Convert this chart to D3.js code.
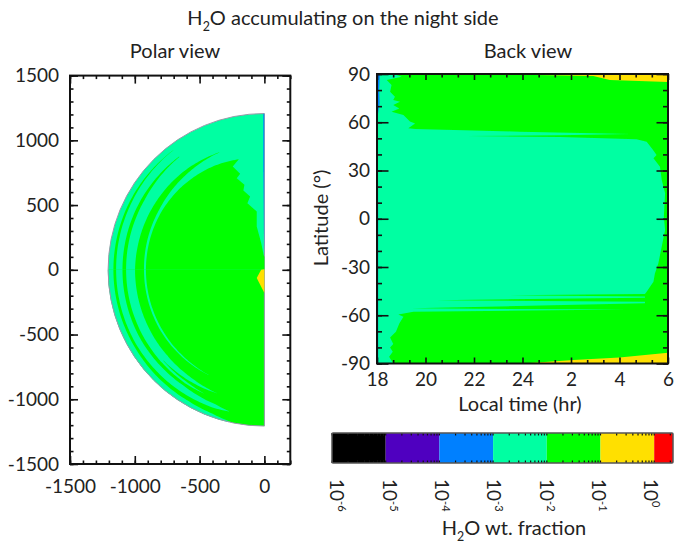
<!DOCTYPE html>
<html>
<head>
<meta charset="utf-8">
<script src="https://cdn.jsdelivr.net/npm/d3@7"></script>
<style>
  html, body { margin: 0; padding: 0; background: #fff; }
  text { font-family: Lato, sans-serif; fill: #222; }
  .axis path { display: none; }
  .axis line { stroke: #111; stroke-width: 1.6; }
  .axis text { font-size: 19px; font-family: Lato, sans-serif; fill: #222; }
</style>
</head>
<body>
<svg id="chart" width="674" height="544"></svg>
<script>
// colours of the colour bar, one per decade
const barColors = ['#000000', '#5000c0', '#0080ff', '#00ffa2', '#00ff00', '#ffe000', '#ff0000'];
const barEdges = [1e-6, 1e-5, 1e-4, 1e-3, 1e-2, 1e-1, 1, 2.24];
const barLabels = [-6, -5, -4, -3, -2, -1, 0];
const teal = barColors[3], green = barColors[4], yellow = barColors[5], blue = barColors[2];

// polar view: disc radius, then bands as [latitude, inner r, outer r]
const discRadius = 1206;
const polarTicks = [-1500, -1000, -500, 0, 500, 1000, 1500];
const polarTicksX = [-1500, -1000, -500, 0];
const polarGreenBands = [
  [[0, 1144, 1165], [25, 1148, 1165], [53, 1160, 1161]],
  [[0, 1067, 1095], [30, 1070, 1095], [53, 1090, 1094]],
  [[0, 929, 998], [30, 935, 988], [50, 950, 982], [69, 970, 971]],
];
const polarTealBands = [
  [[0, 1165, 1208], [-30, 1165, 1208], [-60, 1170, 1208], [-70, 1180, 1208], [-77, 1200, 1208]],
  [[0, 1095, 1144], [-30, 1095, 1144], [-55, 1090, 1140], [-70, 1105, 1135], [-76, 1125, 1127]],
  [[0, 998, 1067], [-25, 998, 1067], [-42, 1000, 1067]],
  [[-41, 1000, 1048], [-55, 1005, 1035], [-69, 1020, 1021]],
  [[-41, 1050, 1067], [-55, 1052, 1068], [-64, 1061, 1063]],
  [[0, 914, 929], [-30, 914, 929], [-50, 915, 924], [-62, 918, 919]],
];
// polar view: outer edge of the main green patch as [latitude, r], jagged edge as [x, y]
const polarCapArc = [[77.6, 875], [70, 885], [60, 895], [45, 905], [30, 912], [15, 914], [0, 914]];
const polarCapEdge = [
  [-244, 797], [-187, 741], [-213, 708], [-154, 656], [-162, 612], [-110, 566],
  [-131, 515], [-59, 450], [-59, 334], [-25, 208], [-5, 110], [0, 100], [0, 0],
];
const polarYellow = [[-25, 0], [-59, -64], [0, -180], [0, 5]];
const polarBlue = [[-10, 1206], [0, 1206], [0, 100], [-4, 300], [-10, 800]];

// back view: outlines as [local time, latitude], local time runs on past 24
const timeTicks = [18, 20, 22, 24, 26, 28, 30];
const latTicks = [-90, -60, -30, 0, 30, 60, 90];
const backGreenNorth = [
  [18.67, 90], [19.02, 88.3], [18.4, 86.3], [18.6, 83.1], [18.54, 79], [18.74, 75.9], [18.67, 73.8],
  [18.95, 72.8], [18.67, 70.7], [18.92, 68.6], [18.6, 66.6], [19.09, 64.5], [19.36, 60.4], [19.57, 59.3],
  [19.29, 56.2], [19.57, 55.8], [23.9, 54.1], [28.43, 52.7], [25.55, 51.9], [21.7, 51.4], [25.55, 50.8],
  [28.7, 49.4], [29.12, 47.9], [29.33, 43.8], [29.53, 39.6], [29.4, 37.6], [29.67, 32.4], [29.74, 24.2],
  [29.88, 15.9], [29.83, 1.2], [30, 0], [30, 90],
];
const backGreenSouth = [
  [29.83, 1.2], [29.88, -7], [29.74, -17.4], [29.6, -27.8], [29.46, -34], [29.4, -39.1], [29.12, -45.4],
  [29.05, -46.8], [23.48, -47.5], [29.05, -48.3], [29.05, -49.1], [20.46, -50.6], [29.05, -51.6],
  [29.05, -52.6], [19.43, -55.7], [28.3, -56.5], [19.5, -57.8], [18.88, -59.5], [19.09, -60.9],
  [18.92, -65.1], [18.78, -70.2], [18.54, -73.8], [18.67, -77.9], [18.54, -80], [18.65, -82.7],
  [18.5, -85.8], [18.65, -89.5], [18.65, -90], [30, -90], [30, 0],
];
const backYellowNorth = [[23.35, 90], [23.35, 89.7], [26.92, 88.7], [27.6, 86.3], [30, 85], [30, 90]];
const backYellowSouth = [[24.03, -90], [26.1, -87.9], [28, -86.2], [30, -83.3], [30, -90]];
const backBlue = [[18, 90], [18.12, 90], [18.09, 80], [18.11, 72], [18.03, 64], [18.05, 0], [18.05, -90], [18, -90]];

const svg = d3.select('#chart');

// slight softening, the marks are not crisp in the original
svg.append('defs').append('filter').attr('id', 'soft')
  .append('feGaussianBlur').attr('stdDeviation', 0.5);

const rad = (deg) => (deg * Math.PI) / 180;

// ---- polar view ----
const polarX = d3.scaleLinear().domain([-1500, 200]).range([70, 290.3]);
const polarY = d3.scaleLinear().domain([-1500, 1500]).range([464, 75.6]);
const polarR = d3.scaleLinear().domain([0, 1500]).range([0, polarX(0) - polarX(-1500)]);

const polarLine = d3.line().x((d) => polarX(d[0])).y((d) => polarY(d[1]));
const bandArea = d3.areaRadial()
  .angle((d) => rad(d.lat - 90))
  .innerRadius((d) => polarR(d.inner))
  .outerRadius((d) => polarR(d.outer));

// walk each band in 1 degree steps so it bends like an arc instead of a chord
function bandPath(stations) {
  const lats = stations.map((d) => d[0]);
  const inner = d3.scaleLinear().domain(lats).range(stations.map((d) => d[1]));
  const outer = d3.scaleLinear().domain(lats).range(stations.map((d) => d[2]));
  const [lo, hi] = d3.extent(lats);
  return bandArea(d3.range(lo, hi + 0.5, 1).map((lat) => ({ lat, inner: inner(lat), outer: outer(lat) })));
}

const polarMarks = svg.append('g').attr('filter', 'url(#soft)');
const disc = polarMarks.append('g').attr('transform', `translate(${polarX(0)}, ${polarY(0)})`);
const discArc = (start, end) => d3.arc()({ innerRadius: 0, outerRadius: polarR(discRadius), startAngle: start, endAngle: end });

disc.append('path').attr('fill', teal).attr('d', discArc(-Math.PI, 0));
disc.append('path').attr('fill', green).attr('d', discArc(-Math.PI, -Math.PI / 2));
disc.selectAll('.gband').data(polarGreenBands).enter().append('path')
  .attr('class', 'gband').attr('fill', green).attr('d', bandPath);
disc.selectAll('.tband').data(polarTealBands).enter().append('path')
  .attr('class', 'tband').attr('fill', teal).attr('d', bandPath);

// main green patch: jagged edge, then back along its arc
const capRadius = d3.scaleLinear().domain(polarCapArc.map((d) => d[0])).range(polarCapArc.map((d) => d[1]));
const capArcPoints = d3.range(0, 78, 1).map((lat) => [
  -capRadius(lat) * Math.cos(rad(lat)),
  capRadius(lat) * Math.sin(rad(lat)),
]);
polarMarks.append('path').attr('fill', green).attr('d', polarLine(polarCapEdge.concat(capArcPoints)) + 'Z');
polarMarks.append('path').attr('fill', yellow).attr('d', polarLine(polarYellow) + 'Z');
polarMarks.append('path').attr('fill', blue).attr('opacity', 0.75).attr('d', polarLine(polarBlue) + 'Z');

disc.append('path').attr('fill', 'none').attr('stroke', '#9a98a8').attr('stroke-width', 1)
  .attr('d', discArc(-Math.PI, 0));

// ---- back view ----
const backX = d3.scaleLinear().domain([18, 30]).range([377, 668]);
const backY = d3.scaleLinear().domain([-90, 90]).range([363.5, 74]);
const backLine = d3.line().x((d) => backX(d[0])).y((d) => backY(d[1]));

const backMarks = svg.append('g').attr('filter', 'url(#soft)');
backMarks.append('rect')
  .attr('x', backX(18)).attr('y', backY(90))
  .attr('width', backX(30) - backX(18)).attr('height', backY(-90) - backY(90))
  .attr('fill', teal);
[[backGreenNorth, green], [backGreenSouth, green], [backYellowNorth, yellow], [backYellowSouth, yellow], [backBlue, blue]]
  .forEach(([outline, colour]) => {
    backMarks.append('path').attr('fill', colour).attr('d', backLine(outline) + 'Z');
  });

// ---- frames and ticks ----
function frame(x, y, opts) {
  const [x0, x1] = x.range();
  const [y0, y1] = y.range();
  const g = svg.append('g');
  g.append('rect').attr('x', x0).attr('y', y1).attr('width', x1 - x0).attr('height', y0 - y1)
    .attr('fill', 'none').attr('stroke', '#111').attr('stroke-width', 2);

  const add = (axis, tx, ty) => g.append('g').attr('class', 'axis')
    .attr('transform', `translate(${tx}, ${ty})`).call(axis);

  add(d3.axisLeft(y).tickValues(opts.major).tickSize(-opts.longY).tickPadding(opts.padY).tickFormat(String), x0, 0);
  add(d3.axisLeft(y).tickValues(opts.minor).tickSize(-opts.shortY).tickFormat(''), x0, 0);
  add(d3.axisRight(y).tickValues(opts.major).tickSize(-opts.longY).tickFormat(''), x1, 0);
  add(d3.axisRight(y).tickValues(opts.minor).tickSize(-opts.shortY).tickFormat(''), x1, 0);
  add(d3.axisBottom(x).tickValues(opts.majorX).tickSize(-opts.longX).tickPadding(opts.padX).tickFormat(opts.fmtX), 0, y0);
  add(d3.axisBottom(x).tickValues(opts.minorX).tickSize(-opts.shortX).tickFormat(''), 0, y0);
  add(d3.axisTop(x).tickValues(opts.majorX).tickSize(-opts.longX).tickFormat(''), 0, y1);
  add(d3.axisTop(x).tickValues(opts.minorX).tickSize(-opts.shortX).tickFormat(''), 0, y1);
}

frame(polarX, polarY, {
  major: polarTicks, minor: d3.range(-1500, 1501, 100),
  majorX: polarTicksX, minorX: d3.range(-1500, 201, 100),
  longY: 8, shortY: 3.5, longX: 8, shortX: 3.5, padY: 11, padX: 16, fmtX: String,
});
frame(backX, backY, {
  major: latTicks, minor: d3.range(-90, 91, 10),
  majorX: timeTicks, minorX: timeTicks.flatMap((h) => [h + 2 / 3, h + 4 / 3]).filter((h) => h < 30),
  longY: 11.5, shortY: 5, longX: 6, shortX: 3.5, padY: 7, padX: 9,
  fmtX: (h) => String(h > 24 ? h - 24 : h),
});

// ---- colour bar ----
const barX = d3.scaleLog().domain([barEdges[0], barEdges[7]]).range([332, 673]);
const barLabelX = d3.scaleLog().domain([1e-6, 1]).range([337, 651]);
const barTop = 433, barBottom = 463;

const bar = svg.append('g').attr('filter', 'url(#soft)');
bar.selectAll('rect.seg').data(barColors).enter().append('rect')
  .attr('class', 'seg')
  .attr('x', (d, i) => barX(barEdges[i]))
  .attr('y', barTop)
  .attr('width', (d, i) => barX(barEdges[i + 1]) - barX(barEdges[i]))
  .attr('height', barBottom - barTop)
  .attr('fill', (d) => d);
const barTicks = barX.ticks();
bar.selectAll('line.t').data(barTicks).enter().append('line').attr('class', 't')
  .attr('x1', (d) => barX(d)).attr('x2', (d) => barX(d))
  .attr('y1', barTop).attr('y2', barTop + 2.5)
  .attr('stroke', '#111').attr('stroke-width', 1.2);
bar.selectAll('line.b').data(barTicks).enter().append('line').attr('class', 'b')
  .attr('x1', (d) => barX(d)).attr('x2', (d) => barX(d))
  .attr('y1', barBottom - 2.5).attr('y2', barBottom)
  .attr('stroke', '#111').attr('stroke-width', 1.2);
bar.append('rect').attr('x', 332).attr('y', barTop).attr('width', 341).attr('height', barBottom - barTop)
  .attr('rx', 1).attr('fill', 'none').attr('stroke', '#555').attr('stroke-width', 1.5);

const barText = svg.selectAll('text.exp').data(barLabels).enter().append('text')
  .attr('class', 'exp')
  .attr('transform', (d) => `translate(${barLabelX(Math.pow(10, d))}, 479) rotate(90)`)
  .attr('dy', '0.35em')
  .style('font-size', '19px')
  .text('10');
barText.append('tspan').attr('dy', '-0.65em').style('font-size', '11px').text((d) => d);

// ---- titles ----
function subscriptLabel(x, y, size, before, after) {
  const t = svg.append('text').attr('x', x).attr('y', y).attr('text-anchor', 'middle')
    .style('font-size', size + 'px').text(before);
  t.append('tspan').attr('dy', size * 0.3).style('font-size', size * 0.62 + 'px').text('2');
  t.append('tspan').attr('dy', -size * 0.3).text(after);
}

subscriptLabel(343, 25, 20, 'H', 'O accumulating on the night side');
subscriptLabel(514, 535, 20, 'H', 'O wt. fraction');

const label = (x, y, txt) => svg.append('text').attr('x', x).attr('y', y)
  .attr('text-anchor', 'middle').style('font-size', '20px').text(txt);
label(175, 58, 'Polar view');
label(528, 58, 'Back view');
label(520, 411, 'Local time (hr)');
svg.append('text').attr('transform', 'translate(328, 218) rotate(-90)')
  .attr('text-anchor', 'middle').style('font-size', '20px').text('Latitude (°)');
</script>
</body>
</html>
